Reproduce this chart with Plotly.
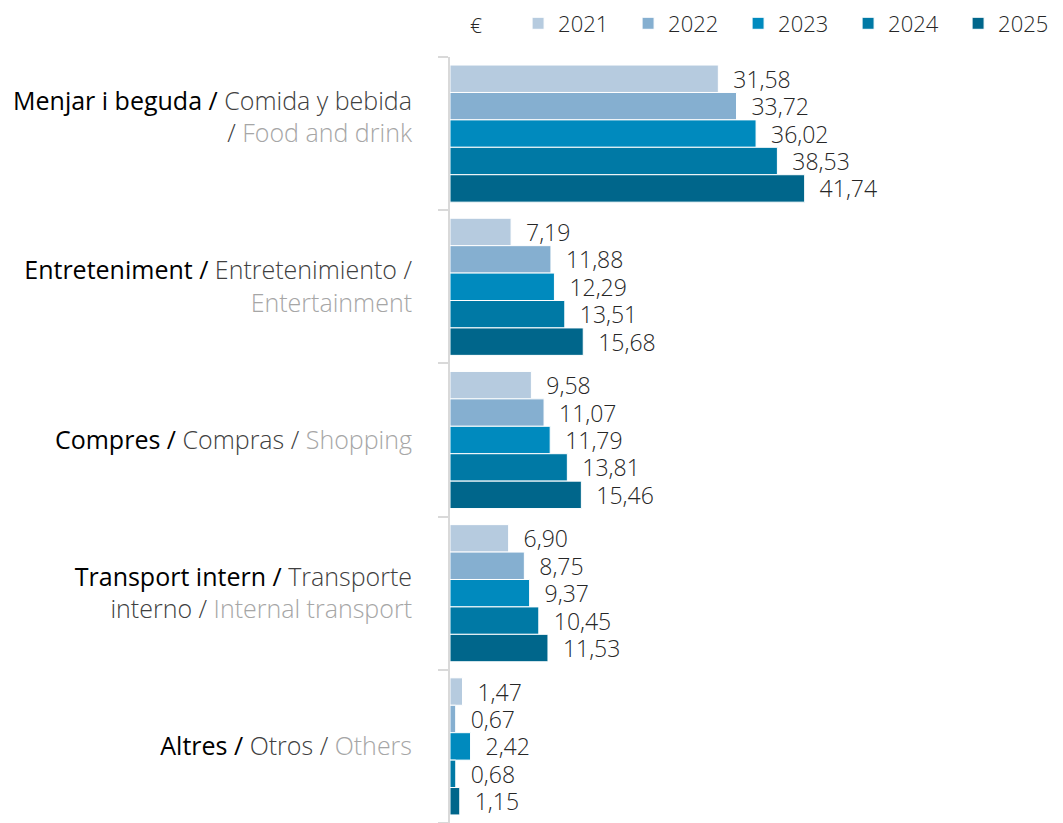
"""Average spend per category and year, horizontal grouped bars."""

import plotly.graph_objects as go

years = ["2021", "2022", "2023", "2024", "2025"]
categories = [
    "Menjar i beguda / Comida y bebida / Food and drink",
    "Entreteniment / Entretenimiento / Entertainment",
    "Compres / Compras / Shopping",
    "Transport intern / Transporte interno / Internal transport",
    "Altres / Otros / Others",
]
# tick labels split by language: catalan (black), spanish (dark grey), english (light grey)
label_ca = ["Menjar i beguda /", "Entreteniment /", "Compres /", "Transport intern /", "Altres /"]
label_es = ["Comida y bebida<br>/\u00a0", "Entretenimiento /<br>", "Compras /\u00a0", "Transporte<br>interno /\u00a0", "Otros /\u00a0"]
label_en = ["Food and drink<br>\u00a0", "Entertainment", "Shopping", "Internal transport", "Others"]

values = {
    "2021": [31.58, 7.19, 9.58, 6.90, 1.47],
    "2022": [33.72, 11.88, 11.07, 8.75, 0.67],
    "2023": [36.02, 12.29, 11.79, 9.37, 2.42],
    "2024": [38.53, 13.51, 13.81, 10.45, 0.68],
    "2025": [41.74, 15.68, 15.46, 11.53, 1.15],
}
colors = {
    "2021": "#b6cbdf",
    "2022": "#85afd0",
    "2023": "#008abe",
    "2024": "#0079a5",
    "2025": "#00668b",
}

FONT = "Open Sans, Segoe UI, sans-serif"

ticktext = [
    f"<span style='color:#000000'>{ca}</span>\u00a0"
    f"<span style='color:#404040;font-weight:300'>{es}</span>"
    f"<span style='color:#a6a6a6;font-weight:300'>{en}</span>"
    for ca, es, en in zip(label_ca, label_es, label_en)
]

fig = go.Figure()
for year in years:
    fig.add_trace(
        go.Bar(
            y=categories,
            x=values[year],
            orientation="h",
            name=year,
            marker={"color": colors[year], "line": {"color": "#ffffff", "width": 1}},
            text=values[year],
            texttemplate="\u00a0\u00a0%{x:.2f}",
            textposition="outside",
            constraintext="none",
            cliponaxis=False,
            textfont={"family": FONT, "size": 23, "color": "#262626", "weight": 300},
        )
    )

fig.add_annotation(
    text="€",
    xref="paper",
    yref="paper",
    x=0.030,
    y=1.042,
    xanchor="left",
    yanchor="middle",
    showarrow=False,
    font={"family": FONT, "size": 21, "color": "#262626", "weight": 300},
)

fig.update_layout(
    width=1055,
    height=815,
    plot_bgcolor="#ffffff",
    paper_bgcolor="#ffffff",
    separators=",.",
    barmode="group",
    bargap=0.105,
    bargroupgap=0,
    margin={"l": 442, "r": 8, "t": 49, "b": 0, "autoexpand": False},
    font={"family": FONT, "size": 23, "color": "#262626"},
    showlegend=True,
    legend={
        "orientation": "h",
        "xref": "container",
        "yref": "container",
        "x": 0.4835,
        "y": 0.981,
        "xanchor": "left",
        "yanchor": "middle",
        "entrywidth": 65,
        "entrywidthmode": "pixels",
        "bgcolor": "rgba(0,0,0,0)",
        "font": {"family": FONT, "size": 22, "color": "#262626", "weight": 300},
        "traceorder": "normal",
    },
    xaxis={"visible": False, "range": [0, 71.2]},
    yaxis={
        "autorange": False,
        "range": [4.5, -0.5],
        "tickmode": "array",
        "tickvals": categories,
        "ticktext": ticktext,
        "ticks": "outside",
        "tickson": "boundaries",
        "ticklen": 10,
        "tickwidth": 2,
        "tickcolor": "#d9d9d9",
        "showline": True,
        "linecolor": "#d9d9d9",
        "linewidth": 2,
        "showgrid": False,
        "ticklabelstandoff": 31,
        "tickfont": {"family": FONT, "size": 25, "color": "#000000"},
    },
)

fig.write_html("out.html")
